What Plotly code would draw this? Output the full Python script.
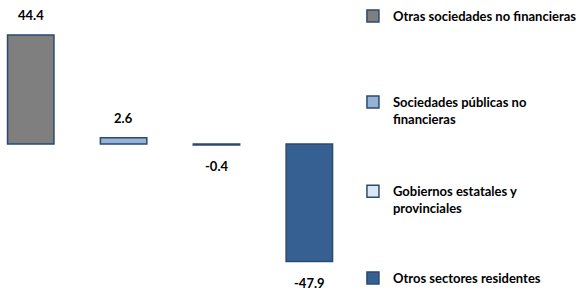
import plotly.graph_objects as go

categories = ["Otras sociedades no financieras",
              "Sociedades públicas no<br>financieras",
              "Gobiernos estatales y<br>provinciales",
              "Otros sectores residentes"]
values = [44.4, 2.6, -0.4, -47.9]
labels = ["44.4", "2.6", "-0.4", "-47.9"]
colors = ["#7f7f7f", "#95b3d7", "#dce6f2", "#376092"]
legend_ids = ["legend", "legend2", "legend3", "legend4"]
legend_y_px = [1, 88, 178, 266]

W, H = 582, 293
FONT = "Lato"

fig = go.Figure()
for i, (cat, v, c, lg) in enumerate(zip(categories, values, colors, legend_ids)):
    fig.add_trace(go.Bar(
        x=[i], y=[v], name=cat, width=0.5,
        marker=dict(color=c, line=dict(color="#2b4a6f", width=1.5)),
        legend=lg, showlegend=True, hoverinfo="skip",
    ))
    fig.add_annotation(x=i, y=v, text="<b>%s</b>" % labels[i], showarrow=False,
                       yshift=20 if v > 0 else -21, xref="x", yref="y",
                       font=dict(family=FONT, size=13, color="#000000"))

px_per_unit_x = 93.67
x0 = -31 / px_per_unit_x
x1 = x0 + W / px_per_unit_x
zero_px = 145.5
px_per_unit_y = 2.48
y1 = zero_px / px_per_unit_y
y0 = -(H - zero_px) / px_per_unit_y

layout_legends = {}
for lg, ypx in zip(legend_ids, legend_y_px):
    layout_legends[lg] = dict(
        x=356 / W, xanchor="left", y=1 - ypx / H, yanchor="top",
        bgcolor="rgba(0,0,0,0)", valign="top", itemwidth=30,
        font=dict(family=FONT, size=13, color="#000000", weight="bold"),
        tracegroupgap=0, itemclick=False, itemdoubleclick=False,
    )

fig.update_layout(
    width=W, height=H, margin=dict(l=0, r=0, t=0, b=0),
    paper_bgcolor="white", plot_bgcolor="white",
    barmode="overlay",
    xaxis=dict(range=[x0, x1], visible=False, fixedrange=True),
    yaxis=dict(range=[y0, y1], visible=False, fixedrange=True),
    **layout_legends,
)
fig.write_html("out.html", config={"displayModeBar": False},
               post_script="document.body.style.margin='0';document.body.style.overflow='hidden';")
